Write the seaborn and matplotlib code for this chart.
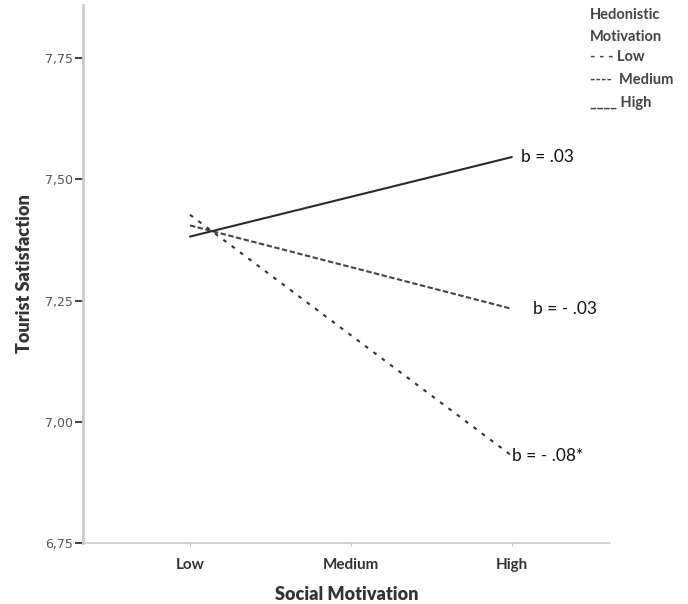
import matplotlib
matplotlib.use('Agg')
import matplotlib.pyplot as plt
import seaborn as sns
import pandas as pd

# x categories and the two ends of each simple slope
social_levels = ['Low', 'Medium', 'High']
line_x = ['Low', 'High']
hm_low = [7.427, 6.930]
hm_medium = [7.405, 7.233]
hm_high = [7.382, 7.546]
slope_labels = ['b = - .08*', 'b = - .03', 'b = .03']
y_ticks = [6.75, 7.00, 7.25, 7.50, 7.75]

rows = []
for name, vals in [('Low', hm_low), ('Medium', hm_medium), ('High', hm_high)]:
    for lvl, v in zip(line_x, vals):
        rows.append({'hm': name, 'x': social_levels.index(lvl), 'y': v})
df = pd.DataFrame(rows)

sns.set_style('white')
plt.rcParams['font.family'] = ['DejaVu Sans']

fig = plt.figure(figsize=(6.88, 6.04), dpi=100)
ax = fig.add_axes([0.1206, 0.101, 0.766, 0.891])

dash_map = {'Low': (1.8, 3.2), 'Medium': (2.6, 1.2), 'High': ''}
sns.lineplot(data=df, x='x', y='y', hue='hm', style='hm', dashes=dash_map,
             palette={'Low': '#333333', 'Medium': '#444444', 'High': '#2a2a2a'},
             linewidth=1.5, legend=False, ax=ax)

ax.set_xlim(-0.665, 2.61)
ax.set_ylim(6.75, 7.86)
ax.set_xticks(range(len(social_levels)))
ax.set_xticklabels(social_levels, fontfamily='Lato', fontweight='bold',
                   fontsize=11, color='#333333')
ax.set_yticks(y_ticks)
ax.set_yticklabels([f'{t:.2f}'.replace('.', ',') for t in y_ticks],
                   fontsize=9, color='#555555')
ax.tick_params(axis='y', left=True, length=6, width=1.3, color='#333333',
               direction='out', pad=1)
ax.tick_params(axis='x', bottom=True, length=2, width=0.6, color='#bbbbbb', pad=9)

for side in ['top', 'right']:
    ax.spines[side].set_visible(False)
ax.spines['left'].set_color('#cccccc')
ax.spines['left'].set_linewidth(2)
ax.spines['bottom'].set_color('#cccccc')
ax.spines['bottom'].set_linewidth(1.2)

ax.set_xlabel('Social Motivation', fontfamily='Lato', fontweight='heavy',
              fontsize=13, color='#333333', labelpad=10)
ax.set_ylabel('Tourist Satisfaction', fontfamily='Lato', fontweight='heavy',
              fontsize=13, color='#333333', labelpad=9)

# slope annotations at the High end
offsets = [0.0, 0.13, 0.06]
for vals, lab, off in zip([hm_low, hm_medium, hm_high], slope_labels, offsets):
    ax.text(2 + off, vals[1], lab, fontfamily='Lato', fontsize=12.5,
            color='#111111', va='center', ha='left')

# hand-made legend in the top right corner
legend_lines = ['Hedonistic', 'Motivation', '- - - Low', '----  Medium', '____ High']
legend_y = [0.975, 0.938, 0.905, 0.868, 0.830]
for txt, yy in zip(legend_lines, legend_y):
    fig.text(0.858, yy, txt, fontfamily='Lato', fontweight='bold',
             fontsize=10.5, color='#444444', va='center', ha='left')

fig.savefig('out.png', dpi=100)
